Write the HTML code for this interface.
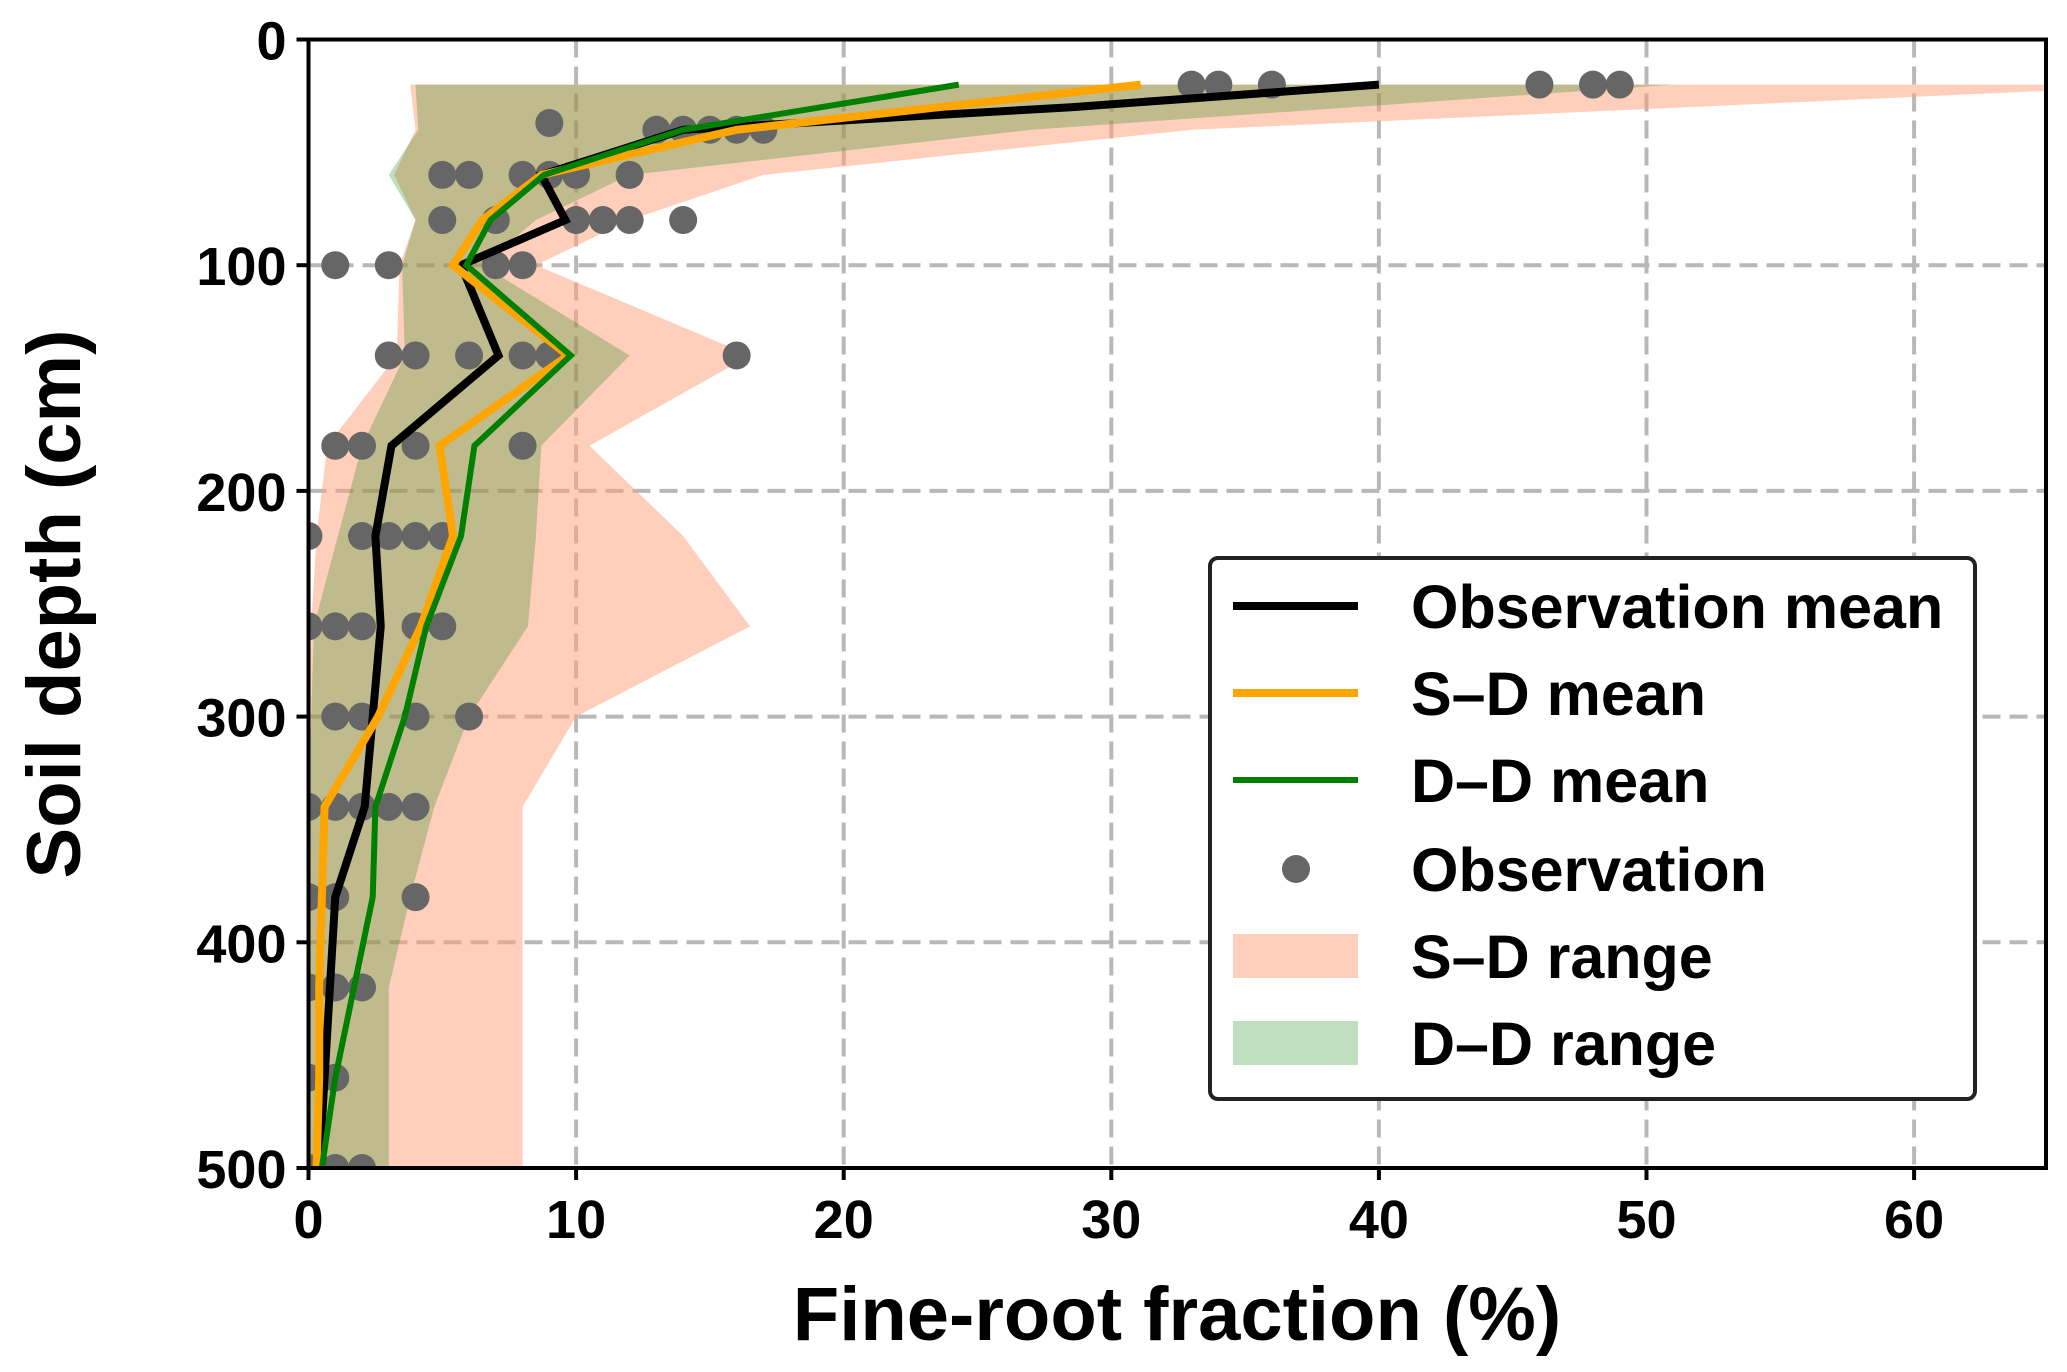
<!DOCTYPE html>
<html><head><meta charset="utf-8"><style>
html,body{margin:0;padding:0;background:#fff;}
svg{display:block;font-family:"Liberation Sans",Arial,sans-serif;font-weight:bold;}
</style></head><body>
<svg id="chart" width="2067" height="1372" viewBox="0 0 2067 1372" xmlns="http://www.w3.org/2000/svg">
<defs><clipPath id="plotclip"><rect x="308.5" y="39.5" width="1737.5" height="1128.5"/></clipPath></defs>
<g id="grid"></g>
<g id="bands" clip-path="url(#plotclip)"></g>
<g id="dots" clip-path="url(#plotclip)"></g>
<g id="lines" clip-path="url(#plotclip)"></g>
<g id="axes"></g>
<text x="1177" y="1340" font-size="76" text-anchor="middle">Fine-root fraction (%)</text>
<text transform="translate(80,604) rotate(-90)" font-size="76" text-anchor="middle">Soil depth (cm)</text>
<g id="legend">
<rect x="1210" y="558" width="765" height="541" rx="8" fill="#fff" stroke="#222" stroke-width="4"/>
<line x1="1233" y1="606" x2="1358" y2="606" stroke="#000" stroke-width="8"/>
<text x="1411" y="628" font-size="61">Observation mean</text>
<line x1="1233" y1="693" x2="1358" y2="693" stroke="#FFA500" stroke-width="8"/>
<text x="1411" y="715" font-size="61">S–D mean</text>
<line x1="1233" y1="780" x2="1358" y2="780" stroke="#008000" stroke-width="6"/>
<text x="1411" y="802" font-size="61">D–D mean</text>
<circle cx="1296" cy="869" r="14" fill="#666"/>
<text x="1411" y="891" font-size="61">Observation</text>
<rect x="1233" y="934" width="125" height="44" fill="#FFA07A" fill-opacity="0.5"/>
<text x="1411" y="978" font-size="61">S–D range</text>
<rect x="1233" y="1021" width="125" height="44" fill="#008000" fill-opacity="0.25"/>
<text x="1411" y="1065" font-size="61">D–D range</text>
</g>
</svg>
<script>
const xTicks = [0,10,20,30,40,50,60];
const yTicks = [0,100,200,300,400,500];
const depths = [20,40,60,80,100,140,180,220,260,300,340,380,420,460,500];
const obsMeanDepths = [20,30,40,60,80,100,140,180,220,260,300,340,380,420,460,500];
const obsMean = [40,28.5,14,8.7,9.6,5.7,7.1,3.1,2.5,2.7,2.4,2.1,1.0,0.8,0.6,0.4];
const sdMean = [31.1,16,8.7,6.5,5.4,9.7,4.9,5.4,4.2,2.6,0.6,0.5,0.4,0.4,0.3];
const ddMean = [24.3,14,8.8,6.8,5.9,9.8,6.2,5.7,4.4,3.6,2.5,2.4,1.7,1.0,0.5];
const sdLow = [3.8,4.0,3.2,4.0,3.4,3.3,0.7,0.3,0.1,0,0,0,0,0,0];
const sdHigh = [70,33,17,12,8.5,16.5,10.5,14,16.5,10,8,8,8,8,8];
const ddLow = [4.0,4.1,3.0,4.0,3.5,3.6,2.0,1.1,0.2,0.1,0,0,0,0,0];
const ddHigh = [51,27,12,8.5,6.5,12,8.7,8.5,8.2,6,4.7,3.8,3,3,3];
const obsDepth = [20,20,20,20,20,20,37,40,40,40,40,40,60,60,60,60,60,60,80,80,80,80,80,80,100,100,100,100,140,140,140,140,140,140,180,180,180,180,220,220,220,220,220,260,260,260,260,260,300,300,300,300,340,340,340,340,340,380,380,380,420,420,420,460,460,500,500,500];
const obsValue = [33,34,36,46,48,49,9,13,14,15,16,17,5,6,8,9,10,12,5,7,10,11,12,14,1,3,7,8,3,4,6,8,9,16,1,2,4,8,0,2,3,4,5,0,1,2,4,5,1,2,4,6,0,1,2,3,4,0,1,4,0,1,2,0,1,0,1,2];

const NS='http://www.w3.org/2000/svg';
const X0=308.5, XU=26.76, Y0=39.5, YU=2.257, XR=2046, YB=1168;
const xs=v=>X0+v*XU, ys=d=>Y0+d*YU;
function mk(tag,parent,attrs){const e=document.createElementNS(NS,tag);for(const k in attrs)e.setAttribute(k,attrs[k]);parent.appendChild(e);return e;}
const grid=document.getElementById('grid'), axes=document.getElementById('axes');
xTicks.forEach(t=>{
  if(t>0){const g=mk('line',grid,{x1:xs(t),x2:xs(t),y1:Y0,y2:YB,stroke:'#b8b8b8','stroke-width':4,'stroke-dasharray':'18,9'});
  
  }
  const tk=mk('line',axes,{x1:xs(t),x2:xs(t),y1:YB,y2:YB+12,stroke:'#000','stroke-width':4});
  
  
  const tx=mk('text',axes,{x:xs(t),y:YB+70,'font-size':54,'text-anchor':'middle'});tx.textContent=t;
  
  
});
yTicks.forEach(t=>{
  if(t>0&&t<500){const g=mk('line',grid,{x1:X0,x2:XR,y1:ys(t),y2:ys(t),stroke:'#b8b8b8','stroke-width':4,'stroke-dasharray':'18,9'});
  
  }
  const tk=mk('line',axes,{x1:X0-12,x2:X0,y1:ys(t),y2:ys(t),stroke:'#000','stroke-width':4});
  
  
  const tx=mk('text',axes,{x:X0-22,y:ys(t)+20,'font-size':54,'text-anchor':'end'});tx.textContent=t;
  
  
});
const fr=mk('rect',axes,{x:X0,y:Y0,width:XR-X0,height:YB-Y0,fill:'none',stroke:'#000','stroke-width':4});



const bands=document.getElementById('bands');
function band(lo,hi,fill,op,name){
  let pts=depths.map((d,i)=>xs(hi[i])+','+ys(d));
  pts=pts.concat(depths.map((d,i)=>xs(lo[i])+','+ys(d)).reverse());
  const p=mk('polygon',bands,{points:pts.join(' '),fill:fill,'fill-opacity':op});
  
  
}
band(sdLow,sdHigh,'#FFA07A',0.5,'sd-range-band');
band(ddLow,ddHigh,'#008000',0.25,'dd-range-band');

const dots=document.getElementById('dots');
obsValue.forEach((v,i)=>{
  const c=mk('circle',dots,{cx:xs(v),cy:ys(obsDepth[i]),r:14,fill:'#666'});
  
  
});
const lines=document.getElementById('lines');
function line(vals,ds,col,w,name){
  const p=mk('polyline',lines,{points:vals.map((v,i)=>xs(v)+','+ys(ds[i])).join(' '),fill:'none',stroke:col,'stroke-width':w,'stroke-linejoin':'miter'});
  
  
}
line(obsMean,obsMeanDepths,'#000',8,'observation-mean-line');
line(sdMean,depths,'#FFA500',8,'sd-mean-line');
line(ddMean,depths,'#008000',6,'dd-mean-line');
</script>
</body></html>
